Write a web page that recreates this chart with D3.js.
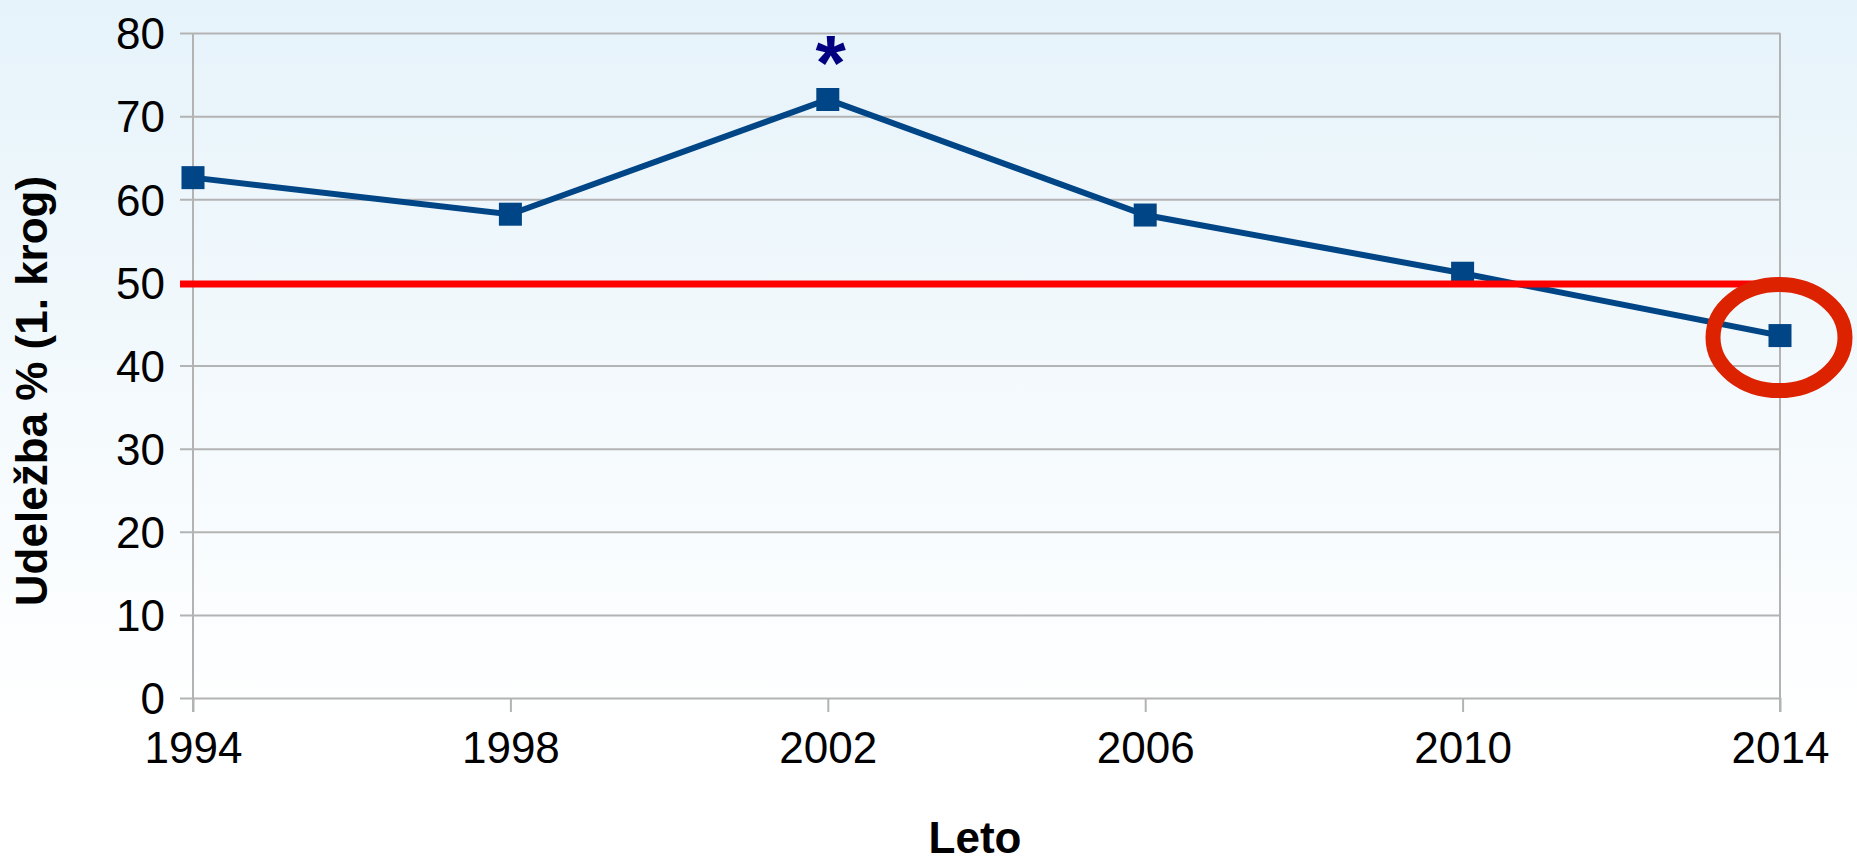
<!DOCTYPE html>
<html>
<head>
<meta charset="utf-8">
<script src="https://cdn.jsdelivr.net/npm/d3@7"></script>
<style>
  body { margin: 0; padding: 0; overflow: hidden; }
  svg { display: block; }
  text { font-family: "Liberation Sans", Arial, sans-serif; }
</style>
</head>
<body>
<div class="chart"></div>
<script>
// data
const years   = [1994, 1998, 2002, 2006, 2010, 2014];
const turnout = [62.6, 58.2, 72.0, 58.1, 51.1, 43.6];
const yTicks  = [0, 10, 20, 30, 40, 50, 60, 70, 80];
const threshold = 49.8;
const starYear = 2002;
const circledYear = 2014;

const W = 1857, H = 861;
const plotLeft = 193, plotRight = 1780, plotTop = 33, plotBottom = 698;

const svg = d3.select(".chart")
    .append("svg")
    .attr("width", W).attr("height", H);

// background gradient
const grad = svg.append("defs").append("linearGradient")
    .attr("id", "bg").attr("x1", 0).attr("y1", 0).attr("x2", 0).attr("y2", 1);
grad.append("stop").attr("offset", "0%").attr("stop-color", "#e6f3fa");
grad.append("stop").attr("offset", "85%").attr("stop-color", "#ffffff");
svg.append("rect").attr("width", W).attr("height", H).attr("fill", "url(#bg)");

const x = d3.scaleLinear().domain([1994, 2014]).range([plotLeft, plotRight]);
const y = d3.scaleLinear().domain([0, 80]).range([plotBottom, plotTop]);

// horizontal grid + y ticks
const yAxis = d3.axisLeft(y).tickValues(yTicks).tickSize(13).tickSizeOuter(0).tickFormat(d3.format("d")).tickPadding(15);
const gy = svg.append("g").attr("transform", `translate(${plotLeft},0)`).call(yAxis);
gy.select(".domain").remove();
gy.selectAll(".tick line").attr("x1", -13).attr("x2", plotRight - plotLeft).attr("stroke", "#b3b3b3").attr("stroke-width", 2);
gy.selectAll(".tick text").attr("font-size", 44).attr("fill", "#000").attr("dy", "0.36em")
    .style("font-family", "'Liberation Sans', Arial, sans-serif");

// vertical edges
svg.append("line").attr("x1", plotLeft).attr("x2", plotLeft).attr("y1", plotTop).attr("y2", plotBottom + 14)
    .attr("stroke", "#b3b3b3").attr("stroke-width", 2);
svg.append("line").attr("x1", plotRight).attr("x2", plotRight).attr("y1", plotTop).attr("y2", plotBottom + 14)
    .attr("stroke", "#b3b3b3").attr("stroke-width", 2);

// x ticks
const xAxis = d3.axisBottom(x).tickValues(years).tickSize(14).tickFormat(d3.format("d")).tickPadding(20);
const gx = svg.append("g").attr("transform", `translate(0,${plotBottom})`).call(xAxis);
gx.select(".domain").remove();
gx.selectAll(".tick line").attr("stroke", "#b3b3b3").attr("stroke-width", 2);
gx.selectAll(".tick text").attr("font-size", 44).attr("fill", "#000")
    .style("font-family", "'Liberation Sans', Arial, sans-serif");

// series line
const pts = years.map((yr, i) => [yr, turnout[i]]);
svg.append("path")
    .datum(pts)
    .attr("fill", "none")
    .attr("stroke", "#004586")
    .attr("stroke-width", 6)
    .attr("d", d3.line().x(d => x(d[0])).y(d => y(d[1])));

svg.selectAll("rect.mark")
    .data(pts)
    .enter().append("rect")
    .attr("class", "mark")
    .attr("x", d => x(d[0]) - 11.5).attr("y", d => y(d[1]) - 11.5)
    .attr("width", 23).attr("height", 23)
    .attr("fill", "#004586");

// threshold line
svg.append("line")
    .attr("x1", plotLeft - 13).attr("x2", plotRight)
    .attr("y1", y(threshold)).attr("y2", y(threshold))
    .attr("stroke", "#ff0000").attr("stroke-width", 7);

// star above 2002
const si = years.indexOf(starYear);
svg.append("text")
    .attr("x", x(starYear) + 3).attr("y", y(turnout[si]) - 10)
    .attr("text-anchor", "middle")
    .attr("font-size", 78).attr("font-weight", "bold")
    .attr("fill", "#000080")
    .text("*");

// circle around 2014
const ci = years.indexOf(circledYear);
svg.append("ellipse")
    .attr("cx", x(circledYear) - 1).attr("cy", y(turnout[ci]) + 2)
    .attr("rx", 66).attr("ry", 53)
    .attr("fill", "none").attr("stroke", "#dd2200").attr("stroke-width", 15);

// axis titles
svg.append("text")
    .attr("x", 975).attr("y", 853)
    .attr("text-anchor", "middle")
    .attr("font-size", 44).attr("font-weight", "bold")
    .text("Leto");

svg.append("text")
    .attr("transform", "translate(47,391) rotate(-90)")
    .attr("text-anchor", "middle")
    .attr("font-size", 44).attr("font-weight", "bold")
    .text("Udeležba % (1. krog)");
</script>
</body>
</html>
